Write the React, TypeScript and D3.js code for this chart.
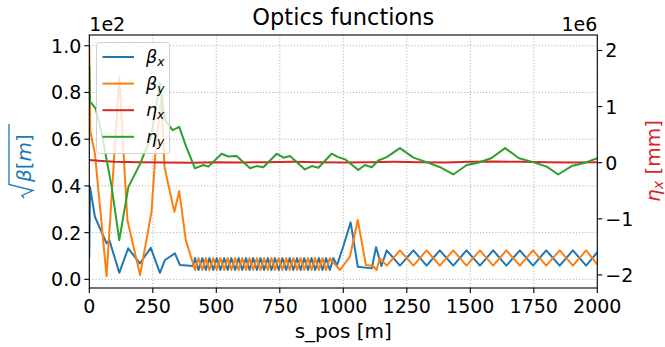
import React from "react";
import * as d3 from "d3";

// ---------- data ----------
const sBetaX = [0, 3, 22, 68, 79, 118, 153, 199, 242, 278, 298, 337, 357, 409,
  416, 430, 445, 459, 473, 488, 502, 516, 531, 545, 559, 574, 588, 602, 617, 631, 645, 660, 674, 688,
  703, 717, 731, 746, 760, 775, 789, 803, 818, 832, 846, 861, 875, 889, 904, 918, 932, 947, 961,
  975, 1001, 1029, 1057, 1112, 1129, 1150,
  1171, 1223, 1276, 1328, 1380, 1433, 1485, 1538, 1590, 1642, 1695, 1747, 1799, 1852, 1904, 1956, 2000];
const betaX = [9.7, 39.6, 26.8, 15.4, 16.8, 2.8, 13.3, 6.8, 13.5, 2.8, 8.3, 11.1, 6.1, 5.7,
  9.1, 4.0, 9.1, 4.0, 9.1, 4.0, 9.1, 4.0, 9.1, 4.0, 9.1, 4.0, 9.1, 4.0, 9.1, 4.0, 9.1, 4.0, 9.1, 4.0,
  9.1, 4.0, 9.1, 4.0, 9.1, 4.0, 9.1, 4.0, 9.1, 4.0, 9.1, 4.0, 9.1, 4.0, 9.1, 4.0, 9.1, 4.0, 9.1,
  6.0, 14.5, 24.4, 5.4, 4.7, 13.8, 5.7,
  12.4, 5.9, 12.4, 5.9, 12.4, 5.9, 12.4, 5.9, 12.4, 5.9, 12.4, 5.9, 12.4, 5.9, 12.4, 5.9, 11.6];

const sBetaY = [0, 4, 22, 68, 118, 150, 200, 245, 262, 284, 296, 335, 354, 380,
  416, 430, 445, 459, 473, 488, 502, 516, 531, 545, 559, 574, 588, 602, 617, 631, 645, 660, 674, 688,
  703, 717, 731, 746, 760, 775, 789, 803, 818, 832, 846, 861, 875, 889, 904, 918, 932, 947,
  987, 1026, 1057, 1089, 1118, 1131, 1144,
  1171, 1223, 1276, 1328, 1380, 1433, 1485, 1538, 1590, 1642, 1695, 1747, 1799, 1852, 1904, 1956, 2000];
const betaY = [100, 63.2, 53.9, 1.4, 86.6, 25.4, 1.8, 28.9, 56.6, 78.0, 48.1, 28.9, 37.8, 16.8,
  4.0, 9.1, 4.0, 9.1, 4.0, 9.1, 4.0, 9.1, 4.0, 9.1, 4.0, 9.1, 4.0, 9.1, 4.0, 9.1, 4.0, 9.1, 4.0, 9.1,
  4.0, 9.1, 4.0, 9.1, 4.0, 9.1, 4.0, 9.1, 4.0, 9.1, 4.0, 9.1, 4.0, 9.1, 4.0, 9.1, 4.0, 9.1,
  4.0, 9.7, 25.4, 6.1, 5.7, 4.0, 9.1,
  5.9, 12.4, 5.9, 12.4, 5.9, 12.4, 5.9, 12.4, 5.9, 12.4, 5.9, 12.4, 5.9, 12.4, 5.9, 12.4, 6.4];

const sEtaX = [0, 50, 100, 200, 300, 400, 500, 600, 700, 800, 900, 1000, 1100, 1200, 1300, 1400, 1500, 1600, 1700, 1800, 1900, 2000];
const etaX = [0.05, 0.03, 0.015, 0.01, 0.005, 0.0, 0.01, 0.005, 0.01, 0.015, 0.01, 0.005, 0.01, 0.015, 0.01, 0.005, 0.015, 0.02, 0.015, 0.01, 0.005, 0.01];

const sEtaY = [0, 3, 25, 49, 88, 118, 154, 200, 243, 278, 298, 328, 354, 381, 416, 449, 469, 521, 547, 580,
  633, 659, 685, 738, 764, 790, 849, 876, 902, 954, 980, 1007, 1059, 1085, 1112, 1138, 1171, 1223, 1276, 1328,
  1381, 1433, 1486, 1530, 1582, 1637, 1692, 1747, 1801, 1846, 1899, 1952, 2000];
const etaY = [1.71, 1.09, 0.97, 0.52, -0.43, -1.38, -0.43, -0.02, 0.46, 1.42, 0.76, 0.58, 0.64, 0.29, -0.10, -0.04, -0.07, 0.16, 0.11, 0.12,
  -0.10, -0.06, -0.08, 0.16, 0.09, 0.12, -0.12, -0.06, -0.09, 0.16, 0.10, 0.06, -0.13, -0.04, -0.08, 0.04, 0.10, 0.26, 0.09, 0.01,
  -0.08, -0.21, -0.04, 0.0, 0.08, 0.26, 0.08, 0.01, -0.07, -0.21, -0.06, 0.0, 0.08];

const xTicks = [0, 250, 500, 750, 1000, 1250, 1500, 1750, 2000];
const yLeftTicks = [0, 20, 40, 60, 80, 100];
const yLeftTickLabels = ["0.0", "0.2", "0.4", "0.6", "0.8", "1.0"];
const yRightTicks = [-2, -1, 0, 1, 2];
const yRightTickLabels = ["\u22122", "\u22121", "0", "1", "2"];

const C_BLUE = "#1f77b4";
const C_ORANGE = "#ff7f0e";
const C_RED = "#d62728";
const C_GREEN = "#2ca02c";

// ---------- layout ----------
const W = 665, H = 347;
const L = 89.3, R = 597.3, T = 35, B = 288;
const FONT = "'DejaVu Sans', sans-serif";
const TICK_FS = 19;
const LABEL_FS = 20;
const LEGEND_FS = 17.5;

export default function App() {
  const x = d3.scaleLinear().domain([0, 2000]).range([L, R]);
  const yL = d3.scaleLinear().domain([-3.7, 104.6]).range([B, T]);
  const yR = d3.scaleLinear().domain([-2.233, 2.276]).range([B, T]);

  const mk = (xs: number[], ys: number[], sy: d3.ScaleLinear<number, number>) =>
    d3.line<number>().x((_, i) => x(xs[i])).y((d) => sy(d))(ys) || "";

  const series = [
    { d: mk(sBetaX, betaX, yL), c: C_BLUE },
    { d: mk(sBetaY, betaY, yL), c: C_ORANGE },
    { d: mk(sEtaX, etaX, yR), c: C_RED },
    { d: mk(sEtaY, etaY, yR), c: C_GREEN },
  ];

  const legendItems = [
    { c: C_BLUE, sym: "\u03b2", sub: "x" },
    { c: C_ORANGE, sym: "\u03b2", sub: "y" },
    { c: C_RED, sym: "\u03b7", sub: "x" },
    { c: C_GREEN, sym: "\u03b7", sub: "y" },
  ];

  const grid = "#b0b0b0";

  return (
    <svg width={W} height={H} style={{ position: "fixed", left: 0, top: 0, background: "#fff" }} fontFamily={FONT}>
      <rect x={0} y={0} width={W} height={H} fill="#fff" />
      <defs>
        <clipPath id="plotclip">
          <rect x={L} y={T} width={R - L} height={B - T} />
        </clipPath>
      </defs>
      {/* grid */}
      {xTicks.map((t) => (
        <line key={"gx" + t} x1={x(t)} x2={x(t)} y1={T} y2={B} stroke={grid} strokeWidth={1} strokeDasharray="1.1,2" />
      ))}
      {yLeftTicks.map((t) => (
        <line key={"gy" + t} x1={L} x2={R} y1={yL(t)} y2={yL(t)} stroke={grid} strokeWidth={1} strokeDasharray="1.1,2" />
      ))}
      {/* lines */}
      <g clipPath="url(#plotclip)">
        {series.map((s, i) => (
          <path key={i} d={s.d} fill="none" stroke={s.c} strokeWidth={2} strokeLinejoin="round" strokeLinecap="square" />
        ))}
      </g>
      {/* spines */}
      <rect x={L} y={T} width={R - L} height={B - T} fill="none" stroke="#000" strokeWidth={1.1} />
      {/* x ticks */}
      {xTicks.map((t) => (
        <g key={"xt" + t}>
          <line x1={x(t)} x2={x(t)} y1={B} y2={B + 5} stroke="#000" strokeWidth={1.1} />
          <text x={x(t)} y={B + 25} textAnchor="middle" fontSize={TICK_FS} fill="#000">{t}</text>
        </g>
      ))}
      {/* left ticks */}
      {yLeftTicks.map((t, i) => (
        <g key={"yl" + t}>
          <line x1={L - 5} x2={L} y1={yL(t)} y2={yL(t)} stroke="#000" strokeWidth={1.1} />
          <text x={L - 8} y={yL(t) + 7} textAnchor="end" fontSize={TICK_FS} fill="#000">{yLeftTickLabels[i]}</text>
        </g>
      ))}
      {/* right ticks */}
      {yRightTicks.map((t, i) => (
        <g key={"yr" + t}>
          <line x1={R} x2={R + 5} y1={yR(t)} y2={yR(t)} stroke="#000" strokeWidth={1.1} />
          <text x={R + 8} y={yR(t) + 7} textAnchor="start" fontSize={TICK_FS} fill="#000">{yRightTickLabels[i]}</text>
        </g>
      ))}
      {/* offset texts */}
      <text x={L} y={30.5} fontSize={TICK_FS} fill="#000">1e2</text>
      <text x={R} y={30.5} fontSize={TICK_FS} textAnchor="end" fill="#000">1e6</text>
      {/* title */}
      <text x={(L + R) / 2} y={25} textAnchor="middle" fontSize={22.5} fill="#000">Optics functions</text>
      {/* x label */}
      <text x={(L + R) / 2} y={338} textAnchor="middle" fontSize={LABEL_FS} fill="#000">s_pos [m]</text>
      {/* left y label: sqrt(beta [m]) */}
      <g transform={`translate(25,161) rotate(-90)`} fill={C_BLUE}>
        <path d="M -37 -1 L -34.5 -3 L -29.5 8 L -23.5 -16 L 37 -16" fill="none" stroke={C_BLUE} strokeWidth={1.3} />
        <text x={-21} y={6} fontSize={LABEL_FS}>
          <tspan fontStyle="italic">{"\u03b2"}</tspan>
          <tspan>[</tspan>
          <tspan fontStyle="italic">m</tspan>
          <tspan>]</tspan>
        </text>
      </g>
      {/* right y label */}
      <g transform={`translate(654,161) rotate(-90)`}>
        <text x={0} y={6} textAnchor="middle" fontSize={LABEL_FS} fill={C_RED}>
          <tspan fontStyle="italic">{"\u03b7"}</tspan>
          <tspan fontStyle="italic" fontSize={LABEL_FS * 0.7} dy={3}>x</tspan>
          <tspan dy={-3}>{" [mm]"}</tspan>
        </text>
      </g>
      {/* legend */}
      <g>
        <rect x={96.5} y={42.5} width={73} height={111} rx={3} fill="#fff" fillOpacity={0.8} stroke="#d0d0d0" strokeWidth={1} />
        {legendItems.map((it, i) => {
          const yy = 57 + i * 26.6;
          return (
            <g key={"lg" + i}>
              <line x1={102.5} x2={134} y1={yy} y2={yy} stroke={it.c} strokeWidth={2} />
              <text x={146} y={yy + 6} fontSize={LEGEND_FS} fill="#000">
                <tspan fontStyle="italic">{it.sym}</tspan>
                <tspan fontStyle="italic" fontSize={LEGEND_FS * 0.7} dy={3}>{it.sub}</tspan>
              </text>
            </g>
          );
        })}
      </g>
    </svg>
  );
}
